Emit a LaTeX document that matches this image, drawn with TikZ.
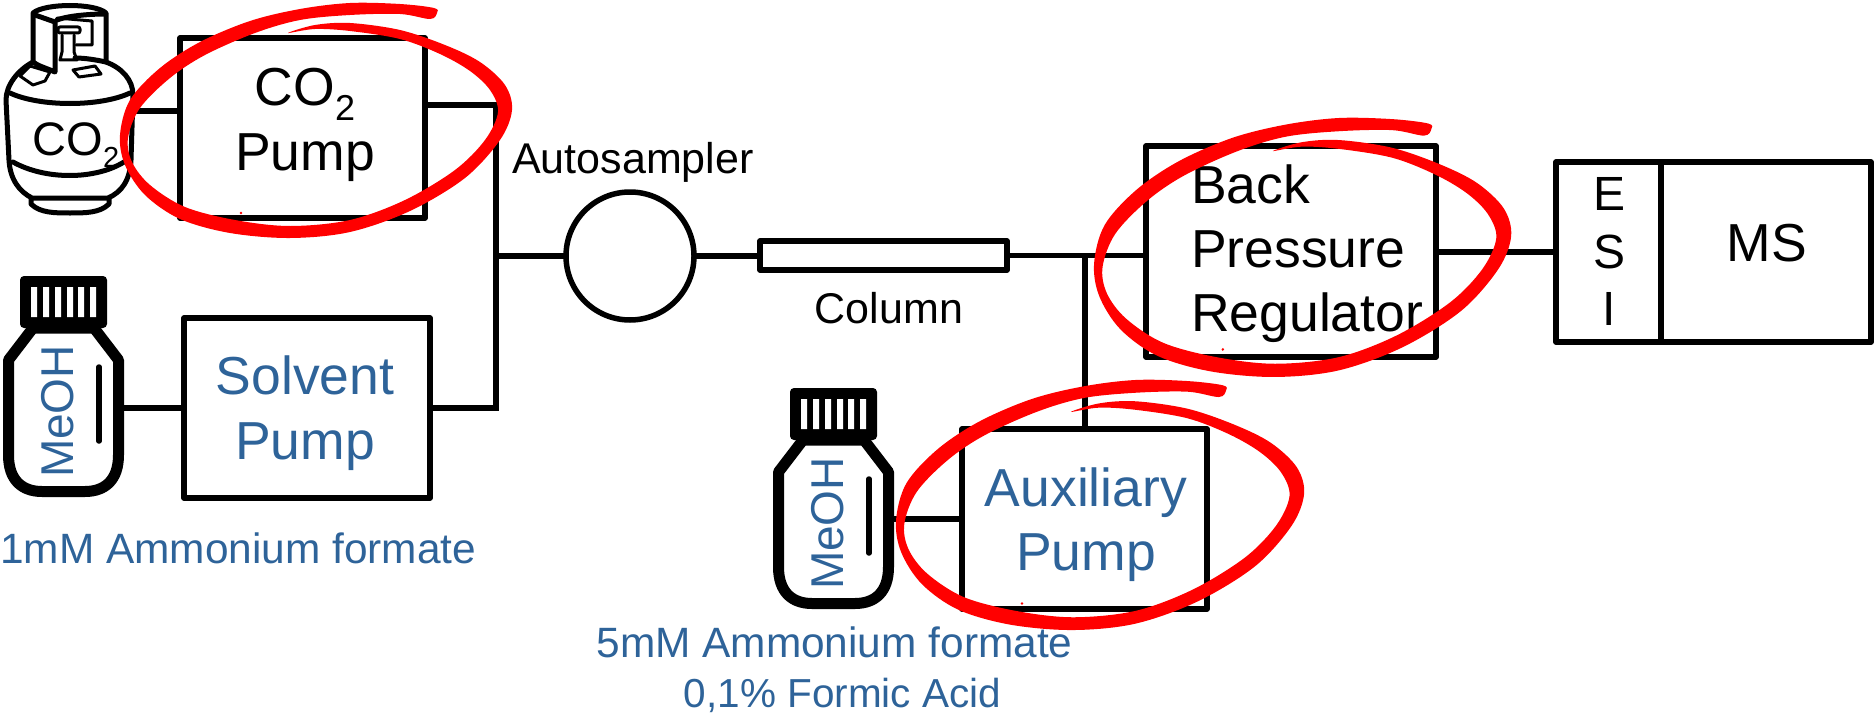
\documentclass[tikz,border=0pt]{standalone}
\usepackage{fontspec}
\setmainfont{Liberation Sans}
\definecolor{txtblue}{HTML}{2E6399}
\definecolor{brush}{HTML}{FF0000}
\newcommand{\fsz}[1]{\fontsize{#1}{#1}\selectfont}
\newcommand{\coo}[3]{CO\raisebox{-#3pt}{\fsz{#2}2}}
\tikzset{
  box/.style={draw=black,line width=5.5pt,line join=round,inner sep=0pt,outer sep=0pt,fill=none},
  wire/.style={draw=black,line width=5.5pt,line join=miter},
  big/.style={font=\fsz{53.5},anchor=base,inner sep=0pt,text=black},
  bigblue/.style={big,text=txtblue},
  small/.style={font=\fsz{43},anchor=base,inner sep=0pt,text=black},
  smallblue/.style={small,font=\fsz{42.4},text=txtblue},
  ghost/.style={inner sep=0pt,outer sep=0pt},
  icon/.style={line width=5pt,line cap=round,line join=round,draw=black},
}
\newcommand{\bottleicon}{%
  \draw[line width=11pt,line join=round]
    (8.5,360) -- (33,328) -- (94,328) -- (118.5,360) -- (118.5,455)
    .. controls (118.5,480) and (105,491.5) .. (85,491.5) -- (42,491.5)
    .. controls (22,491.5) and (8.5,480) .. (8.5,455) -- cycle;
  \fill[black,rounded corners=4pt] (20,276) rectangle (107,328);
  \fill[white] (31,287) rectangle (37,317) (43,287) rectangle (49,317)
    (55,287) rectangle (61,317) (67,287) rectangle (73,317)
    (78,287) rectangle (84,317) (90,287) rectangle (96,317);
  \draw[line width=5.5pt,line cap=round] (99,367) -- (99,441);
  \node[font=\fsz{46},text=txtblue,rotate=90,anchor=base,inner sep=0pt] at (73,411.5) {MeOH};
}
\newcommand{\redloop}{%
  \fill[brush] plot[smooth cycle,tension=.55] coordinates {
    (434,8) (400,4) (350,3) (300,9) (250,21) (200,42) (160,68) (130,100) (120,135)
    (125,165) (145,195) (180,219) (230,233) (290,238) (350,232) (410,211) (465,178)
    (500,140) (512,110) (505,85) (480,62) (445,45) (400,30) (350,23) (315,25) (288,33)
    (315,29) (350,31) (400,39) (440,54) (470,71) (490,90) (498,112) (485,140) (455,170)
    (405,200) (350,220) (290,226) (235,220) (185,207) (150,185) (132,162) (128,138)
    (140,108) (170,78) (205,55) (255,33) (300,20) (350,15) (400,14) (430,19) (437,13)};
  \fill[brush] (241,213) circle (1.3);
}
\begin{document}
\begin{tikzpicture}[x=1pt,y=-1pt]
\useasboundingbox (0,0) rectangle (1874,717);

% invisible anchors for the icons
\node[ghost,minimum width=130pt,minimum height=205pt] (cylinder) at (70,110) {};
\node[ghost,minimum width=121pt,minimum height=221pt] (bottleA) at (63.5,386.5) {};
\node[ghost,minimum width=121pt,minimum height=221pt] (bottleB) at (833.5,498.5) {};

% boxes
\node[box,minimum width=245pt,minimum height=180pt] (co2pump) at (302.5,128) {};
\node[box,minimum width=246pt,minimum height=180pt] (solvpump) at (307,408) {};
\node[box,minimum width=245pt,minimum height=180pt] (auxpump) at (1084.5,519) {};
\node[box,minimum width=290pt,minimum height=211pt] (bpr) at (1291,251.5) {};
\node[box,minimum width=105pt,minimum height=180pt] (esi) at (1608.5,252) {};
\node[box,minimum width=210pt,minimum height=180pt] (ms) at (1766,252) {};
\node[box,circle,minimum size=128pt] (autosampler) at (630,256) {};
\node[box,minimum width=247pt,minimum height=29pt] (column) at (883.5,255.5) {};

\coordinate (j1) at (496,256);
\coordinate (j2) at (1085,256);
\coordinate (co2inlevel) at (0,111);
\coordinate (co2outlevel) at (0,105);

% connectors
\draw[wire] (cylinder.east |- co2inlevel) -- (co2pump.west |- co2inlevel);
\draw[wire] (bottleA.east |- solvpump.west) -- (solvpump.west);
\draw[wire] (bottleB.east |- auxpump.west) -- (auxpump.west);
\draw[wire] (co2pump.east |- co2outlevel) -| (j1);
\draw[wire] (solvpump.east) -| (j1);
\draw[wire] (j1) -- (autosampler.west);
\draw[wire] (autosampler.east) -- (column.west |- autosampler.east);
\draw[wire] (column.east) -- (bpr.west |- column.east);
\draw[wire] (j2) -- (auxpump.north -| j2);
\draw[wire] (bpr.east |- esi.west) -- (esi.west);

% CO2 cylinder
\begin{scope}[icon]
  \draw (33,62) .. controls (18,70) and (6,85) .. (6,100) -- (9,160)
    .. controls (10,180) and (20,192) .. (32,198) -- (108,198)
    .. controls (122,192) and (130,180) .. (131,160) -- (133,95)
    .. controls (133,80) and (122,68) .. (106,62);
  \draw (75,58) .. controls (85,58) and (97,60) .. (106,62);
  \draw (10,93) .. controls (40,107) and (100,107) .. (130,93);
  \draw (13,162) .. controls (45,180) and (95,180) .. (124,162);
  \draw (31,198) -- (31,204) .. controls (40,213) and (55,213) .. (70,213)
    .. controls (85,213) and (100,213) .. (109,204) -- (109,198);
  \draw (33,62) -- (33,13) .. controls (45,3) and (95,3) .. (106,13) -- (106,60);
  \draw (57,20) .. controls (70,15) and (95,14) .. (105,14);
  \draw (35,15) -- (55,22) -- (55,72) .. controls (46,68) and (38,66) .. (33,62);
  \draw[line width=3pt] (57,18) -- (92,21) -- (92,45) -- (76,45);
  \draw[line width=3pt,rounded corners=2pt] (58,27) -- (80,27) -- (80,33) -- (58,33) -- cycle;
  \draw[line width=3pt] (62,35) -- (62,52) -- (60,60) -- (77,60) -- (74,52) -- (74,35);
  \draw[line width=3pt] (73,70) -- (95,66) -- (101,74) -- (79,77) -- cycle;
  \draw[line width=3pt] (20,76) -- (30,66) -- (50,72) -- (45,81) -- (33,85) -- cycle;
\end{scope}
\node[ghost,font=\fsz{47},anchor=base] at (76,155) {\coo{47}{29}{12}};

% methanol bottles
\begin{scope}\bottleicon\end{scope}
\begin{scope}[shift={(770,112)}]\bottleicon\end{scope}

% texts
\node[big] at (305,106) {\coo{53.5}{36}{14}};
\node[big] at (305,170) {Pump};
\node[bigblue] at (305,394) {Solvent};
\node[bigblue] at (305,459) {Pump};
\node[bigblue] at (1086,506) {Auxiliary};
\node[bigblue] at (1086,570) {Pump};
\node[big,anchor=base west] at (1191,203) {Back};
\node[big,anchor=base west] at (1191,267) {Pressure};
\node[big,anchor=base west] at (1191,331) {Regulator};
\node[big,font=\fsz{48}] at (1609,210) {E};
\node[big,font=\fsz{48}] at (1609,268) {S};
\node[big,font=\fsz{48}] at (1609,325) {I};
\node[big] at (1767,261) {MS};
\node[small] at (633,173) {Autosampler};
\node[small] at (889,323) {Column};
\node[smallblue,anchor=base west] at (0,563) {1mM Ammonium formate};
\node[smallblue] at (834.5,657) {5mM Ammonium formate};
\node[smallblue,font=\fsz{40.5}] at (842.5,707) {0,1\% Formic Acid};

% red hand-drawn loops
\begin{scope}\redloop\end{scope}
\begin{scope}[shift={(966.4,114.7)},xscale=1.064,yscale=1.102]\redloop\end{scope}
\begin{scope}[shift={(771.1,376.8)},xscale=1.041,yscale=1.064]\redloop\end{scope}
\end{tikzpicture}
\end{document}
